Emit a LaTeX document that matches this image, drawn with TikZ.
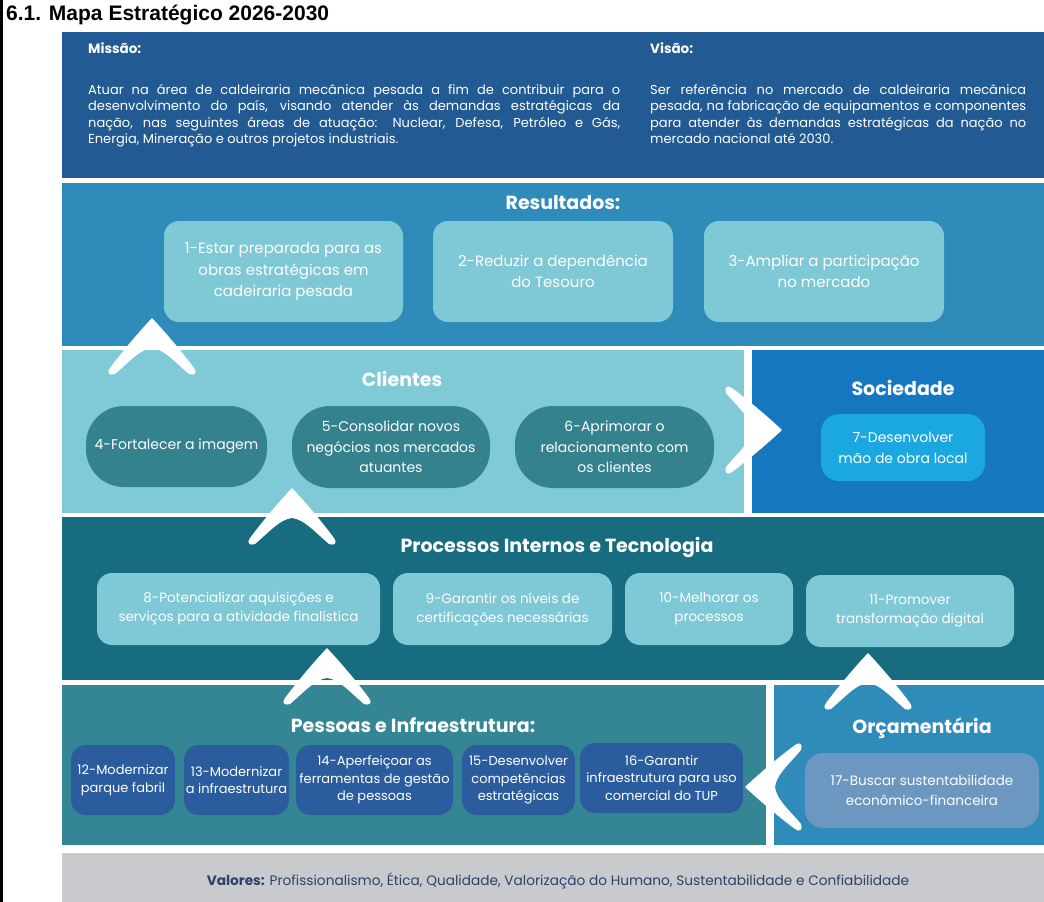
\documentclass[tikz,border=0pt]{standalone}
\usepackage{fontspec}
\setmainfont{Poppins}
\newfontfamily\titulofonte{Liberation Sans}
\definecolor{azulmissao}{HTML}{225A93}
\definecolor{azulresult}{HTML}{2F8BBA}
\definecolor{ciano}{HTML}{80CAD7}
\definecolor{cianocaixa}{HTML}{7FC8D5}
\definecolor{azulsoc}{HTML}{1677C1}
\definecolor{tealproc}{HTML}{176C7F}
\definecolor{tealpes}{HTML}{358694}
\definecolor{tealcli}{HTML}{35828F}
\definecolor{celeste}{HTML}{1BA8E0}
\definecolor{azulpes}{HTML}{2B5C9E}
\definecolor{azulorc}{HTML}{6B97C0}
\definecolor{cinza}{HTML}{C8CACD}
\definecolor{navy}{HTML}{2B4468}

\begin{document}
\begin{tikzpicture}[x=1pt,y=-1pt,
  caixa/.style={rounded corners=15pt, align=center, text=white, inner sep=0pt},
  titulo/.style={font=\bfseries\fontsize{19}{21}\selectfont, text=white, inner sep=0pt},
  texto/.style={font=\fontsize{13}{16.5}\selectfont, text=white, inner sep=0pt, align=justify},
  seta/.pic={\fill[white] (0,0) .. controls (15,16) and (30,34) .. (42,50) .. controls (46,55) and (42,58) .. (37,56) .. controls (25,46) and (12,31) .. (0,30) .. controls (-12,31) and (-25,46) .. (-37,56) .. controls (-42,58) and (-46,55) .. (-42,50) .. controls (-30,34) and (-15,16) .. (0,0) -- cycle;}]
\useasboundingbox (0,0) rectangle (1044,902);
\fill[black] (0,0) rectangle (2.5,902);
\node[anchor=west, inner sep=0pt, font=\titulofonte\bfseries\fontsize{21}{24}\selectfont] (cabecalho) at (6,15) {6.1. Mapa Estratégico 2026-2030};

\fill[azulmissao] (62,32) rectangle (1044,178);
\fill[azulresult] (62,183) rectangle (1044,346);
\fill[ciano] (62,350) rectangle (744,513);
\fill[azulsoc] (752,350) rectangle (1044,513);
\fill[tealproc] (62,517) rectangle (1044,680);
\fill[tealpes] (62,685) rectangle (766,845);
\fill[azulresult] (774,685) rectangle (1044,845);
\fill[cinza] (62,853) rectangle (1044,902);

\node[anchor=west, inner sep=0pt, text=white, font=\bfseries\fontsize{13.5}{15}\selectfont] (missao) at (88,48) {Missão:};
\node[anchor=west, inner sep=0pt, text=white, font=\bfseries\fontsize{13.5}{15}\selectfont] (visao) at (650,48) {Visão:};
\node[texto, anchor=north west, text width=532pt] (missaotxt) at (88,84) {Atuar na área de caldeiraria mecânica pesada a fim de contribuir para o\linebreak desenvolvimento do país, visando atender às demandas estratégicas da\linebreak nação, nas seguintes áreas de atuação: Nuclear, Defesa, Petróleo e Gás,\linebreak Energia, Mineração e outros projetos industriais.};
\node[texto, anchor=north west, text width=376pt] (visaotxt) at (650,84) {Ser referência no mercado de caldeiraria mecânica\linebreak pesada, na fabricação de equipamentos e componentes\linebreak para atender às demandas estratégicas da nação no\linebreak mercado nacional até 2030.};

\node[titulo] (resultados) at (563,203) {Resultados:};
\node[caixa, fill=cianocaixa, minimum width=239pt, minimum height=101pt, font=\fontsize{15}{21.5}\selectfont] (r1) at (283.5,271.5) {1-Estar preparada para as\\obras estratégicas em\\cadeiraria pesada};
\node[caixa, fill=cianocaixa, minimum width=240pt, minimum height=101pt, font=\fontsize{15}{21}\selectfont] (r2) at (553,271.5) {2-Reduzir a dependência\\do Tesouro};
\node[caixa, fill=cianocaixa, minimum width=240pt, minimum height=101pt, font=\fontsize{15}{21}\selectfont] (r3) at (824,271.5) {3-Ampliar a participação\\no mercado};

\node[titulo] (clientes) at (402,379) {Clientes};
\node[caixa, rounded corners=38pt, fill=tealcli, minimum width=181pt, minimum height=81pt, font=\fontsize{14}{20.5}\selectfont] (c4) at (176.5,446.5) {4-Fortalecer a imagem};
\node[caixa, rounded corners=38pt, fill=tealcli, minimum width=198pt, minimum height=82pt, font=\fontsize{14}{20.5}\selectfont] (c5) at (391,447) {5-Consolidar novos\\negócios nos mercados\\atuantes};
\node[caixa, rounded corners=38pt, fill=tealcli, minimum width=199pt, minimum height=82pt, font=\fontsize{14}{20.5}\selectfont] (c6) at (614.5,447) {6-Aprimorar o\\relacionamento com\\os clientes};

\node[titulo] (sociedade) at (903,388) {Sociedade};
\node[caixa, rounded corners=18pt, fill=celeste, minimum width=164pt, minimum height=67pt, font=\fontsize{14}{21}\selectfont] (s7) at (903,447.5) {7-Desenvolver\\mão de obra local};

\node[titulo] (processos) at (557,547) {Processos Internos e Tecnologia};
\node[caixa, fill=cianocaixa, minimum width=283pt, minimum height=72pt, font=\fontsize{13.5}{19}\selectfont] (p8) at (238.5,609) {8-Potencializar aquisições e\\serviços para a atividade finalística};
\node[caixa, fill=cianocaixa, minimum width=219pt, minimum height=72pt, font=\fontsize{13.5}{19}\selectfont] (p9) at (502.5,609) {9-Garantir os níveis de\\certificações necessárias};
\node[caixa, fill=cianocaixa, minimum width=168pt, minimum height=72pt, font=\fontsize{13.5}{19}\selectfont] (p10) at (709,609) {10-Melhorar os\\processos};
\node[caixa, fill=cianocaixa, minimum width=208pt, minimum height=72pt, font=\fontsize{13.5}{19}\selectfont] (p11) at (910,611) {11-Promover\\transformação digital};

\node[titulo] (pessoas) at (413,725) {Pessoas e Infraestrutura:};
\node[caixa, fill=azulpes, minimum width=104pt, minimum height=70pt, font=\fontsize{13}{17.5}\selectfont] (e12) at (123,780) {12-Modernizar\\parque fabril};
\node[caixa, fill=azulpes, minimum width=105pt, minimum height=70pt, font=\fontsize{13}{17.5}\selectfont] (e13) at (236.5,780) {13-Modernizar\\a infraestrutura};
\node[caixa, fill=azulpes, minimum width=157pt, minimum height=70pt, font=\fontsize{13}{17.5}\selectfont] (e14) at (374.5,780) {14-Aperfeiçoar as\\ferramentas de gestão\\de pessoas};
\node[caixa, fill=azulpes, minimum width=113pt, minimum height=70pt, font=\fontsize{13}{17.5}\selectfont] (e15) at (518.5,780) {15-Desenvolver\\competências\\estratégicas};
\node[caixa, fill=azulpes, minimum width=163pt, minimum height=70pt, font=\fontsize{13}{17.5}\selectfont] (e16) at (661.5,778) {16-Garantir\\infraestrutura para uso\\comercial do TUP};

\node[titulo] (orcamentaria) at (922,728) {Orçamentária};
\node[caixa, rounded corners=18pt, fill=azulorc, minimum width=234pt, minimum height=75pt, font=\fontsize{13.5}{20}\selectfont] (o17) at (922,790.5) {17-Buscar sustentabilidade\\econômico-financeira};

\node[inner sep=0pt, text=navy, font=\fontsize{13.7}{15}\selectfont] (valores) at (558,881) {\textbf{Valores:} Profissionalismo, Ética, Qualidade, Valorização do Humano, Sustentabilidade e Confiabilidade};

\pic at (152,318) {seta};
\pic at (292,488) {seta};
\pic at (327,648) {seta};
\pic at (868,653) {seta};
\pic[rotate=-90] at (782,430) {seta};
\pic[rotate=90] at (745,787) {seta};
\end{tikzpicture}
\end{document}
